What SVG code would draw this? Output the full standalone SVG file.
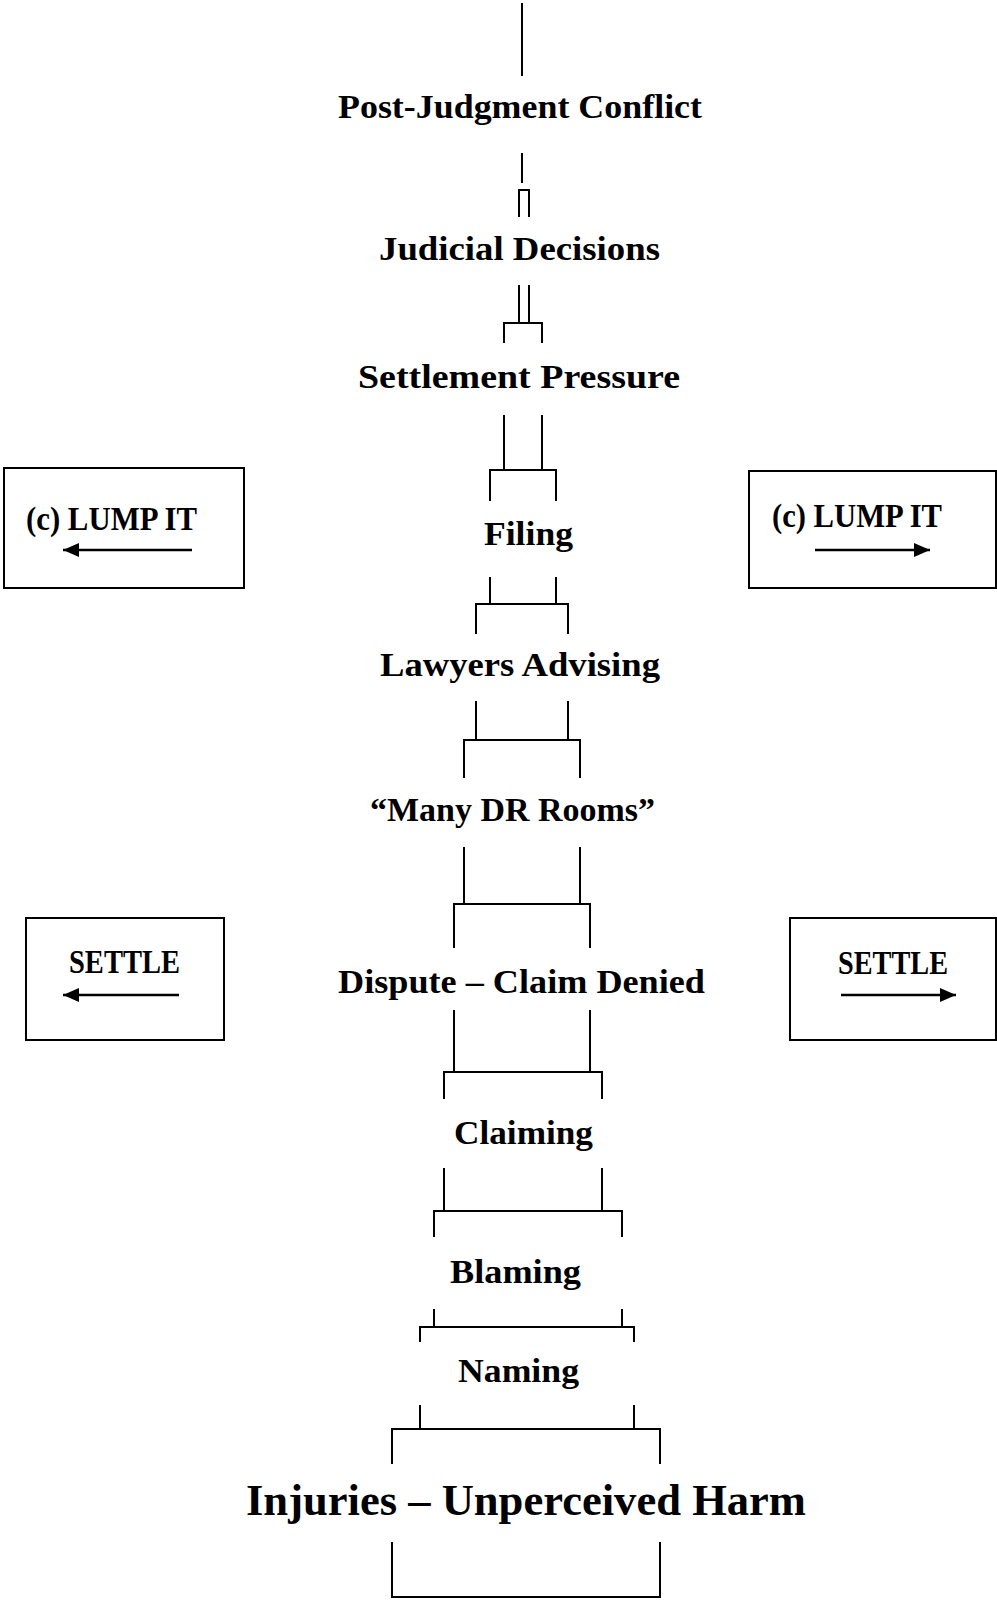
<svg xmlns="http://www.w3.org/2000/svg" width="997" height="1602" viewBox="0 0 997 1602">
<style>
.lbl{font-family:"Liberation Serif","Times New Roman",serif;font-weight:bold;font-size:33px;fill:#000}
.big{font-size:44px}
.side{font-size:34px}
.box{fill:#fff;stroke:#000;stroke-width:2}
.ln{fill:none;stroke:#000;stroke-width:2}
.arr{fill:none;stroke:#000;stroke-width:2.5}
</style>
<defs>
<marker id="ah" markerUnits="userSpaceOnUse" markerWidth="18" markerHeight="16" refX="16" refY="8" orient="auto">
<path d="M0,1 L16,8 L0,15 Z" fill="#000"/>
</marker>
</defs>
<rect width="997" height="1602" fill="#fff"/>
<g id="connectors">
<path class="ln" d="M522,3 V76"/>
<path class="ln" d="M522,153 V183"/>
<path class="ln" d="M519,217 V190 H529 V217"/>
<path class="ln" d="M519,285 V323 M529,285 V323 M504,343 V323 H542 V343"/>
<path class="ln" d="M504,415 V470 M542,415 V470 M490,501 V470 H556 V501"/>
<path class="ln" d="M490,577 V604 M556,577 V604 M476,634 V604 H568 V634"/>
<path class="ln" d="M476,701 V740 M568,701 V740 M464,778 V740 H580 V778"/>
<path class="ln" d="M464,847 V904 M580,847 V904 M454,948 V904 H590 V948"/>
<path class="ln" d="M454,1010 V1072 M590,1010 V1072 M444,1099 V1072 H602 V1099"/>
<path class="ln" d="M444,1168 V1211 M602,1168 V1211 M434,1237 V1211 H622 V1237"/>
<path class="ln" d="M434,1309 V1327 M622,1309 V1327 M420,1342 V1327 H634 V1342"/>
<path class="ln" d="M420,1405 V1429 M634,1405 V1429 M392,1464 V1429 H660 V1464"/>
<path class="ln" d="M392,1542 V1597 H660 V1542"/>
</g>
<g id="post-judgment"><text class="lbl" x="338" y="118" textLength="364" lengthAdjust="spacingAndGlyphs">Post-Judgment Conflict</text></g>
<g id="judicial"><text class="lbl" x="379" y="260" textLength="281" lengthAdjust="spacingAndGlyphs">Judicial Decisions</text></g>
<g id="settlement"><text class="lbl" x="358" y="388" textLength="322" lengthAdjust="spacingAndGlyphs">Settlement Pressure</text></g>
<g id="filing"><text class="lbl" x="484" y="545" textLength="89" lengthAdjust="spacingAndGlyphs">Filing</text></g>
<g id="lawyers"><text class="lbl" x="380" y="676" textLength="280" lengthAdjust="spacingAndGlyphs">Lawyers Advising</text></g>
<g id="dr-rooms"><text class="lbl" x="370" y="821" textLength="285" lengthAdjust="spacingAndGlyphs">“Many DR Rooms”</text></g>
<g id="dispute"><text class="lbl" x="338" y="993" textLength="367" lengthAdjust="spacingAndGlyphs">Dispute – Claim Denied</text></g>
<g id="claiming"><text class="lbl" x="454" y="1144" textLength="139" lengthAdjust="spacingAndGlyphs">Claiming</text></g>
<g id="blaming"><text class="lbl" x="450" y="1283" textLength="131" lengthAdjust="spacingAndGlyphs">Blaming</text></g>
<g id="naming"><text class="lbl" x="458" y="1382" textLength="121" lengthAdjust="spacingAndGlyphs">Naming</text></g>
<g id="injuries"><text class="lbl big" x="246" y="1515" textLength="560" lengthAdjust="spacingAndGlyphs">Injuries – Unperceived Harm</text></g>
<g id="lump-left">
<rect class="box" x="4" y="468" width="240" height="120"/>
<text class="lbl side" x="26" y="530" textLength="171" lengthAdjust="spacingAndGlyphs">(c) LUMP IT</text>
<path class="arr" d="M192,550 H63" marker-end="url(#ah)"/>
</g>
<g id="lump-right">
<rect class="box" x="749" y="471" width="247" height="117"/>
<text class="lbl side" x="772" y="527" textLength="170" lengthAdjust="spacingAndGlyphs">(c) LUMP IT</text>
<path class="arr" d="M815,550 H930" marker-end="url(#ah)"/>
</g>
<g id="settle-left">
<rect class="box" x="26" y="918" width="198" height="122"/>
<text class="lbl" x="69" y="973" textLength="111" lengthAdjust="spacingAndGlyphs">SETTLE</text>
<path class="arr" d="M179,995 H63" marker-end="url(#ah)"/>
</g>
<g id="settle-right">
<rect class="box" x="790" y="918" width="206" height="122"/>
<text class="lbl" x="838" y="974" textLength="110" lengthAdjust="spacingAndGlyphs">SETTLE</text>
<path class="arr" d="M841,995 H956" marker-end="url(#ah)"/>
</g>
</svg>
